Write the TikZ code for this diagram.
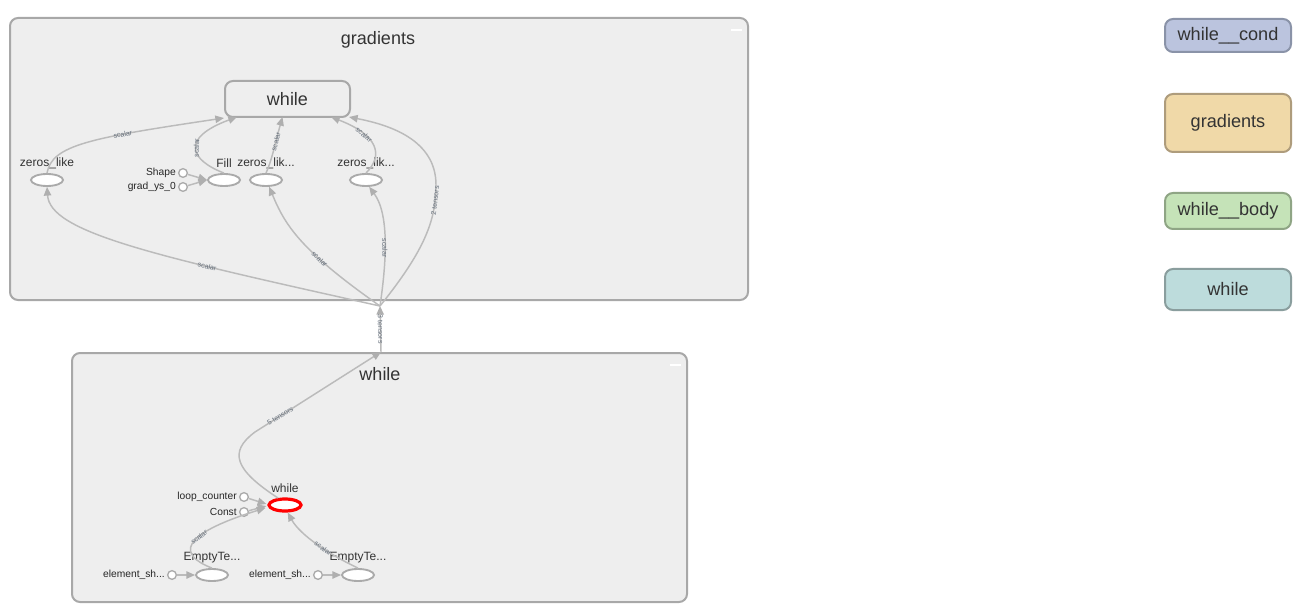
\documentclass[tikz,border=0pt]{standalone}
\usepackage{fontspec}
\setmainfont{Liberation Sans}
\usetikzlibrary{shapes.geometric,arrows.meta,calc}
\definecolor{boxfill}{HTML}{EEEEEE}
\definecolor{boxline}{HTML}{A8A8A8}
\definecolor{nodeline}{HTML}{AAAAAA}
\definecolor{edgecol}{HTML}{BBBBBB}
\definecolor{tipcol}{HTML}{AFAFAF}
\definecolor{txt}{HTML}{333333}
\definecolor{elabcol}{HTML}{66707C}
\definecolor{condfill}{HTML}{BBC4DE}
\definecolor{condline}{HTML}{8A93A8}
\definecolor{gradfill}{HTML}{F0D9A8}
\definecolor{gradline}{HTML}{AE9C7C}
\definecolor{bodyfill}{HTML}{C5E3B8}
\definecolor{bodyline}{HTML}{8FA585}
\definecolor{whilefill}{HTML}{BDDCDC}
\definecolor{whileline}{HTML}{8A9E9E}
\begin{document}
\begin{tikzpicture}[x=0.75pt,y=-0.75pt,
  cluster/.style={draw=boxline, fill=boxfill, line width=1.5pt, rounded corners=6pt, inner sep=0pt},
  opnode/.style={ellipse, draw=nodeline, fill=white, line width=1.4pt, minimum width=24pt, minimum height=9pt, inner sep=0pt},
  rednode/.style={ellipse, draw=red, fill=white, line width=2.4pt, minimum width=24pt, minimum height=9pt, inner sep=0pt},
  constnode/.style={circle, draw=nodeline, fill=white, line width=1pt, minimum size=6.5pt, inner sep=0pt},
  lbl/.style={font=\fontsize{9}{10}\selectfont, text=txt, inner sep=0pt},
  small/.style={font=\fontsize{7.7}{9}\selectfont, text=black!85, inner sep=0pt, anchor=east},
  conn/.style={draw=edgecol, line width=1.1pt, -{Triangle[length=6.5pt,width=5.5pt,color=tipcol]}},
  elab/.style={font=\fontsize{5.3}{6}\selectfont, text=elabcol, sloped, inner sep=0.4pt},
  ttl/.style={font=\fontsize{13.5}{15}\selectfont, text=txt, inner sep=0pt},
  legendbox/.style={rounded corners=6pt, line width=1.5pt, minimum width=94.5pt, text=txt, font=\fontsize{13.6}{15}\selectfont, inner sep=0pt}
]
\useasboundingbox (0,0) rectangle (1308,609);
\fill[white] (0,0) rectangle (1308,609);

% clusters
\node[cluster, minimum width=553.5pt, minimum height=211.5pt] (grad) at (379,159) {};
\node[ttl] (gradt) at (378,40) {gradients};
\draw[white, line width=1.6pt] (731,30) -- (742,30);

\node[cluster, minimum width=461.25pt, minimum height=186.75pt] (wbox) at (379.5,477.5) {};
\node[ttl] (wboxt) at (380,374) {while};
\draw[white, line width=1.6pt] (670,365) -- (681,365);

% gradients content
\node[draw=boxline, fill=boxfill, line width=1.5pt, rounded corners=6pt, minimum width=93.75pt, minimum height=27pt, font=\fontsize{13.5}{15}\selectfont, text=txt, inner sep=0pt] (w) at (287.5,99) {while};

\node[opnode] (zl) at (47,180) {};
\node[lbl] (zlt) at (47,163) {zeros\_like};
\node[opnode] (fill) at (224,180) {};
\node[lbl] (fillt) at (224,163) {Fill};
\node[opnode] (zk1) at (266,180) {};
\node[lbl] (zk1t) at (266,163) {zeros\_lik...};
\node[opnode] (zk2) at (366,180) {};
\node[lbl] (zk2t) at (366,163) {zeros\_lik...};

\node[constnode] (shape) at (183,173) {};
\node[small] (shapet) at (176,173) {Shape};
\node[constnode] (gys) at (183,187) {};
\node[small] (gyst) at (176,187) {grad\_ys\_0};

\draw[conn] (shape) -- (fill.west);
\draw[conn] (gys) -- (fill.west);

\coordinate (j1) at (380,306);
\coordinate (j2) at (381,352);

\draw[conn] (zl.north) .. controls (52,145) and (90,138) .. (w.south west)
  node[elab, pos=0.68] {scalar};
\draw[conn] (fill.north) .. controls (190,160) and (180,138) .. ($(w.south west)+(13,-1)$)
  node[elab, pos=0.5] {scalar};
\draw[conn] (zk1.north) .. controls (272,160) and (276,140) .. ($(w.south)+(-5,-1)$)
  node[elab, pos=0.62] {scalar};
\draw[conn] (zk2.north) .. controls (384,155) and (378,135) .. ($(w.south east)+(-20,-1)$)
  node[elab, pos=0.68] {scalar};
\draw[conn] (j1) .. controls (425,250) and (436,220) .. (436,185)
  node[elab, pos=0.85] {2 tensors}
  .. controls (436,140) and (390,125) .. ($(w.south east)+(-2,-1)$);

\draw[conn] (j1) .. controls (150,255) and (50,232) .. (zl.south)
  node[elab, pos=0.3] {scalar};
\draw[conn] (j1) .. controls (300,250) and (285,225) .. (zk1.-65)
  node[elab, pos=0.33] {scalar};
\draw[conn] (j1) .. controls (386,265) and (390,215) .. (zk2.-65)
  node[elab, pos=0.45] {scalar};

\draw[conn] (j2) -- (j1) node[elab, pos=0.5] {3 tensors};

% while content
\node[rednode] (rw) at (285,505) {};
\node[lbl] (rwt) at (285,488) {while};
\node[constnode] (lc) at (244,497) {};
\node[small] (lct) at (237,497) {loop\_counter};
\node[constnode] (cst) at (244,512) {};
\node[small] (cstt) at (237,512) {Const};

\draw[conn] (lc) -- ($(rw.west)+(-1,-1)$);
\draw[conn] (cst) -- ($(rw.west)+(-1,1)$);

\draw[conn] (rw.135) .. controls (235,470) and (228,452) .. (255,432) -- (j2)
  node[elab, pos=0.2] {5 tensors};

\node[opnode] (et1) at (212,575) {};
\node[lbl] (et1t) at (212,558) {EmptyTe...};
\node[opnode] (et2) at (358,575) {};
\node[lbl] (et2t) at (358,558) {EmptyTe...};
\node[constnode] (es1) at (172,575) {};
\node[small] (es1t) at (165,575) {element\_sh...};
\node[constnode] (es2) at (318,575) {};
\node[small] (es2t) at (311,575) {element\_sh...};

\draw[conn] (es1) -- (et1.west);
\draw[conn] (es2) -- (et2.west);

\draw[conn] (et1.north) .. controls (178,555) and (178,535) .. ($(rw.west)+(-2,3)$)
  node[elab, pos=0.6] {scalar};
\draw[conn] (et2.north) .. controls (330,555) and (300,535) .. (rw.-70)
  node[elab, pos=0.42] {scalar};

% legend
\node[legendbox, draw=condline, fill=condfill, minimum height=24.75pt] (lg1) at (1228,35.5) {while\_\_cond};
\node[legendbox, draw=gradline, fill=gradfill, minimum height=43.5pt] (lg2) at (1228,123) {gradients};
\node[legendbox, draw=bodyline, fill=bodyfill, minimum height=27pt] (lg3) at (1228,211) {while\_\_body};
\node[legendbox, draw=whileline, fill=whilefill, minimum height=30.75pt] (lg4) at (1228,289.5) {while};
\end{tikzpicture}
\end{document}
